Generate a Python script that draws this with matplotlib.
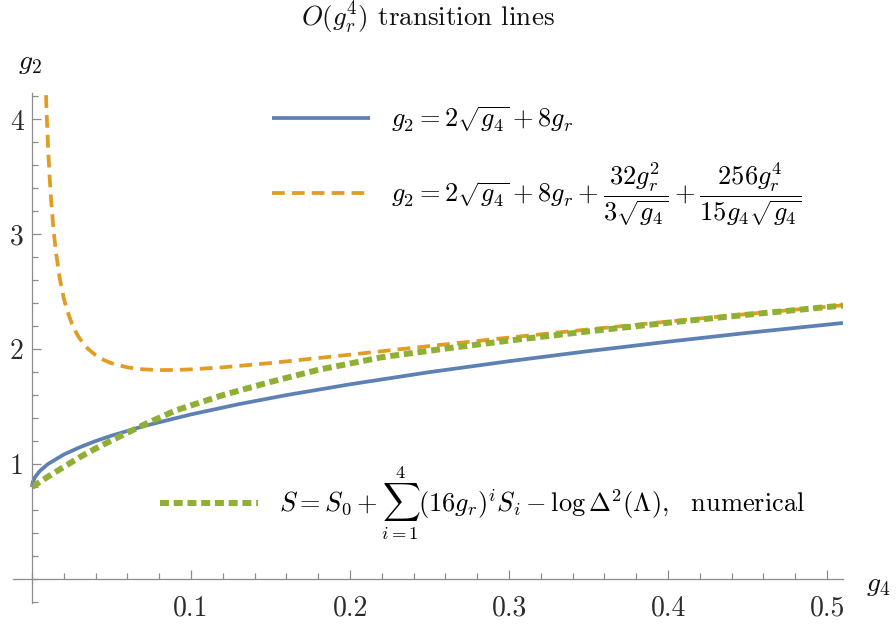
import matplotlib
matplotlib.use('Agg')
import matplotlib.pyplot as plt
from matplotlib.ticker import FixedLocator, FixedFormatter, MultipleLocator

plt.rcParams['font.family'] = 'serif'
plt.rcParams['font.serif'] = ['cmr10']
plt.rcParams['mathtext.fontset'] = 'cm'
plt.rcParams['axes.unicode_minus'] = False

# blue: g2 = 2 sqrt(g4) + 8 gr
g4_blue = [0, 0.0001, 0.0005, 0.002, 0.005, 0.01, 0.02, 0.03, 0.04, 0.05, 0.07, 0.1,
           0.13, 0.16, 0.2, 0.25, 0.3, 0.35, 0.4, 0.45, 0.51]
g2_blue = [0.8, 0.82, 0.845, 0.889, 0.941, 1.0, 1.083, 1.146, 1.2, 1.247, 1.329, 1.432,
           1.521, 1.6, 1.694, 1.8, 1.895, 1.983, 2.065, 2.142, 2.228]

# orange: with the g_r^2 and g_r^4 corrections
g4_orange = [0.008, 0.009, 0.01, 0.011, 0.012, 0.0135, 0.015, 0.0175, 0.02, 0.022, 0.025,
             0.0275, 0.03, 0.035, 0.04, 0.045, 0.05, 0.06, 0.07, 0.08, 0.09, 0.1, 0.12, 0.15,
             0.2, 0.25, 0.3, 0.35, 0.4, 0.45, 0.51]
g2_orange = [4.557, 4.113, 3.773, 3.506, 3.291, 3.038, 2.845, 2.608, 2.440, 2.339, 2.223,
             2.149, 2.091, 2.005, 1.947, 1.906, 1.877, 1.841, 1.824, 1.818, 1.819, 1.824,
             1.842, 1.879, 1.952, 2.027, 2.101, 2.172, 2.240, 2.306, 2.382]

# green: numerical
g4_green = [0, 0.01, 0.02, 0.03, 0.04, 0.05, 0.07, 0.09, 0.12, 0.15, 0.18, 0.22, 0.26,
            0.30, 0.35, 0.40, 0.45, 0.51]
g2_green = [0.80, 0.89, 0.975, 1.06, 1.135, 1.205, 1.34, 1.465, 1.60, 1.715, 1.82, 1.93, 2.005,
            2.075, 2.155, 2.23, 2.30, 2.38]

x_ticks = [0.1, 0.2, 0.3, 0.4, 0.5]
x_labels = ['0.1', '0.2', '0.3', '0.4', '0.5']
y_ticks = [1, 2, 3, 4]
y_labels = ['1', '2', '3', '4']

label_blue = r'$g_2 = 2\sqrt{g_4} + 8g_r$'
label_orange = r'$g_2 = 2\sqrt{g_4} + 8g_r + \dfrac{32g_r^2}{3\sqrt{g_4}} + \dfrac{256g_r^4}{15g_4\sqrt{g_4}}$'
label_green = r'$S = S_0 + \sum_{i=1}^{4}(16g_r)^i S_i - \log\Delta^2(\Lambda),$  numerical'

fig = plt.figure(figsize=(8.96, 6.33), dpi=100)
ax = fig.add_axes([13 / 896, 30 / 633, 830 / 896, 510 / 633])
ax.set_xlim(-0.012, 0.510)
ax.set_ylim(-0.21, 4.23)

l1, = ax.plot(g4_blue, g2_blue, color='#5E81B5', lw=2.7, solid_capstyle='butt')
l2, = ax.plot(g4_orange, g2_orange, color='#E19C24', lw=2.7, dashes=(3.4, 1.9))
l3, = ax.plot(g4_green, g2_green, color='#8FB032', lw=4.3, dashes=(1.5, 0.8))

for s in ['top', 'right']:
    ax.spines[s].set_visible(False)
ax.spines['left'].set_position(('data', 0))
ax.spines['bottom'].set_position(('data', 0))
for s in ['left', 'bottom']:
    ax.spines[s].set_color('#8c8c8c')
    ax.spines[s].set_linewidth(0.9)

ax.xaxis.set_major_locator(FixedLocator(x_ticks))
ax.xaxis.set_major_formatter(FixedFormatter(x_labels))
ax.yaxis.set_major_locator(FixedLocator(y_ticks))
ax.yaxis.set_major_formatter(FixedFormatter(y_labels))
ax.xaxis.set_minor_locator(MultipleLocator(0.02))
ax.yaxis.set_minor_locator(MultipleLocator(0.2))

ax.tick_params(which='both', direction='in', color='#8c8c8c', width=0.9, labelcolor='#2b2b2b')
ax.tick_params(which='major', length=6.5, labelsize=20)
ax.tick_params(which='minor', length=4)
ax.tick_params(axis='x', which='major', pad=12)
ax.tick_params(axis='y', which='major', pad=6)

fig.text(428 / 896, 1 - 26 / 633, r'$O(g_r^4)$ transition lines', ha='center', va='baseline',
         fontsize=19.5, color='#111111')
fig.text(30 / 896, 1 - 63 / 633, r'$g_2$', ha='center', va='center', fontsize=20, color='#111111')
fig.text(878 / 896, 1 - 585 / 633, r'$g_4$', ha='center', va='center', fontsize=20, color='#111111')

leg1 = ax.legend(handles=[l1, l2], labels=[label_blue, label_orange], loc='center left',
                 bbox_to_anchor=(272 / 896, 1 - 166 / 633), bbox_transform=fig.transFigure,
                 frameon=False, fontsize=19, handlelength=3.7, handletextpad=0.8,
                 labelspacing=1.0, borderpad=0, borderaxespad=0)
ax.add_artist(leg1)
ax.legend(handles=[l3], labels=[label_green], loc='center left',
          bbox_to_anchor=(160 / 896, 1 - 503 / 633), bbox_transform=fig.transFigure,
          frameon=False, fontsize=19, handlelength=3.7, handletextpad=0.8,
          borderpad=0, borderaxespad=0)

fig.savefig('out.png', dpi=100)
